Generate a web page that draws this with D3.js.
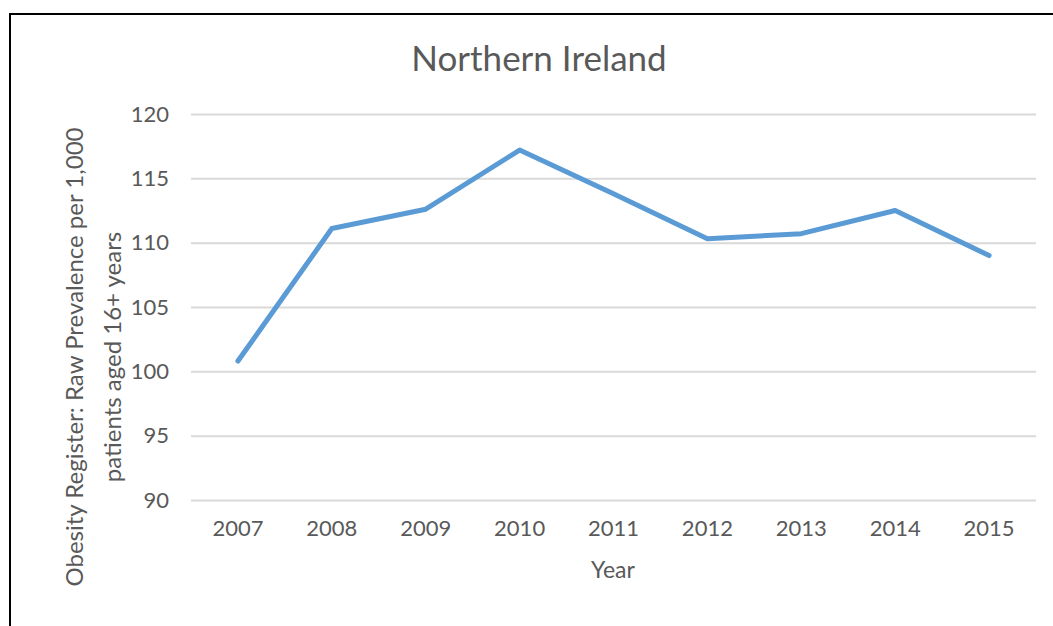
<!DOCTYPE html>
<html>
<head>
<meta charset="utf-8">
<script src="https://cdn.jsdelivr.net/npm/d3@7"></script>
<style>
  body { margin: 0; background: #fff; }
  svg { display: block; }
  svg text { font-family: Lato, "Open Sans", sans-serif; }
</style>
</head>
<body>
<script>
// data
var years = ["2007", "2008", "2009", "2010", "2011", "2012", "2013", "2014", "2015"];
var prevalence = [100.8, 111.1, 112.6, 117.2, 113.8, 110.3, 110.7, 112.5, 109.0];
var yTicks = [90, 95, 100, 105, 110, 115, 120];

var width = 1053,
  height = 626;
var margin = {
  top: 114,
  bottom: 126,
  left: 191,
  right: 17
};

var svg = d3.select('body')
  .append('svg')
  .attr('width', width)
  .attr('height', height);

// outer chart border (runs off the right/bottom edge)
svg.append('rect')
  .attr('x', 10)
  .attr('y', 14)
  .attr('width', 1100)
  .attr('height', 700)
  .attr('fill', 'none')
  .attr('stroke', '#000')
  .attr('stroke-width', 2);

var xScale = d3.scaleBand()
  .domain(years)
  .range([margin.left, width - margin.right]);

var yScale = d3.scaleLinear()
  .domain([90, 120])
  .range([height - margin.bottom, margin.top]);

// gridlines + y labels
var yAxis = svg.append('g')
  .attr('transform', `translate(${margin.left},0)`)
  .call(d3.axisLeft(yScale)
    .tickValues(yTicks)
    .tickSize(-(width - margin.left - margin.right))
    .tickPadding(22));
yAxis.attr('font-family', null);
yAxis.select('.domain').remove();
yAxis.selectAll('line').attr('stroke', '#d9d9d9').attr('stroke-width', 2);
yAxis.selectAll('text')
  .attr('fill', '#595959')
  .style('font-size', '22px');

// x labels
var xAxis = svg.append('g')
  .attr('transform', `translate(0,${height - margin.bottom})`)
  .call(d3.axisBottom(xScale).tickSize(0).tickPadding(20));
xAxis.attr('font-family', null);
xAxis.select('.domain').remove();
xAxis.selectAll('text')
  .attr('fill', '#595959')
  .style('font-size', '22px');

// line
var line = d3.line()
  .x(function(d, i) { return xScale(years[i]) + xScale.bandwidth() / 2; })
  .y(function(d) { return yScale(d); });

svg.append('path')
  .datum(prevalence)
  .attr('d', line)
  .attr('fill', 'none')
  .attr('stroke', '#5b9bd5')
  .attr('stroke-width', 5)
  .attr('stroke-linecap', 'round')
  .attr('stroke-linejoin', 'round');

// title
svg.append('text')
  .attr('x', 539)
  .attr('y', 71)
  .attr('text-anchor', 'middle')
  .attr('fill', '#595959')
  .style('font-size', '35px')
  .text('Northern Ireland');

// axis titles
svg.append('text')
  .attr('x', 613)
  .attr('y', 578)
  .attr('text-anchor', 'middle')
  .attr('fill', '#595959')
  .style('font-size', '23px')
  .text('Year');

var yTitle = svg.append('text')
  .attr('transform', 'translate(0,357) rotate(-90)')
  .attr('text-anchor', 'middle')
  .attr('fill', '#595959')
  .style('font-size', '24px');
yTitle.append('tspan').attr('x', 0).attr('y', 83).text('Obesity Register: Raw Prevalence per 1,000');
yTitle.append('tspan').attr('x', 0).attr('y', 121).text('patients aged 16+ years');
</script>
</body>
</html>
